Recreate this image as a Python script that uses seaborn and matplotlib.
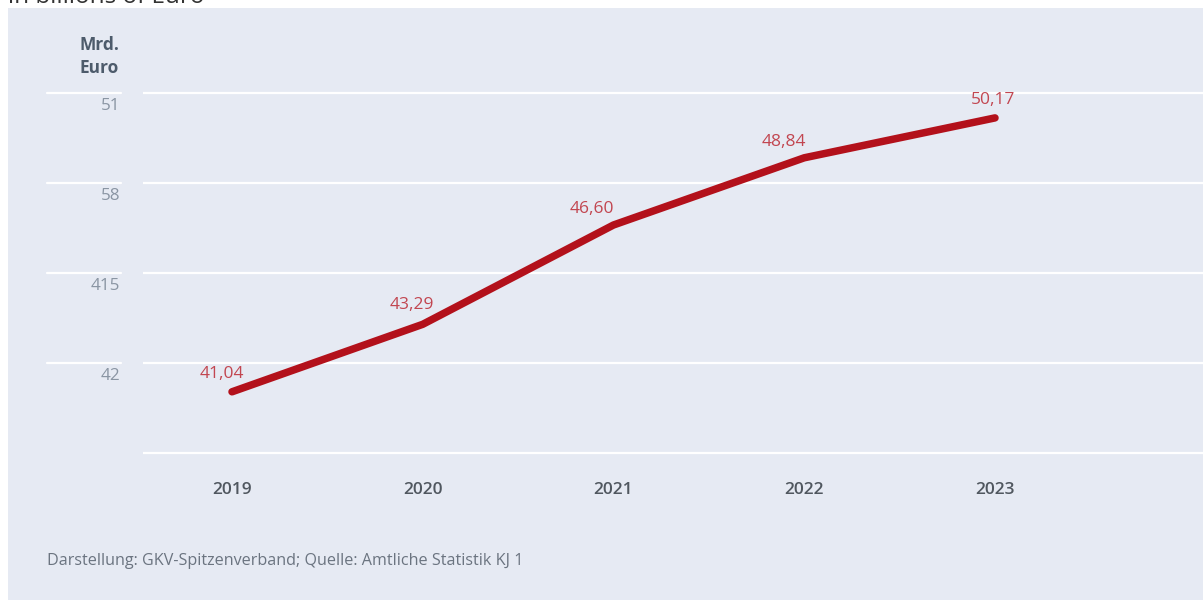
import matplotlib
matplotlib.use("Agg")
import matplotlib.pyplot as plt
from matplotlib.patches import Rectangle
from matplotlib.transforms import blended_transform_factory
import seaborn as sns
import pandas as pd

# Data
years = [2019, 2020, 2021, 2022, 2023]
spending = [41.04, 43.29, 46.60, 48.84, 50.17]
value_labels = ["41,04", "43,29", "46,60", "48,84", "50,17"]
ytick_values = [51, 48, 45, 42]
ytick_labels = ["51", "58", "415", "42"]
grid_values = [51, 48, 45, 42, 39]

sns.set_theme(style="white")
plt.rcParams["font.family"] = ["Open Sans", "DejaVu Sans"]

W, H, DPI = 1203, 600, 100
fig = plt.figure(figsize=(W / DPI, H / DPI), dpi=DPI, facecolor="white")

BG = "#e6eaf3"
fig.patches.append(Rectangle((8 / W, 0), 1 - 8 / W, 1 - 8 / H,
                             transform=fig.transFigure, facecolor=BG,
                             edgecolor="none", zorder=-5))

# Subtitle at the very top, running past the upper edge
fig.text(8 / W, 1 - 3 / H, "in billions of Euro", fontsize=17.5, color="#333333",
         ha="left", va="baseline")

ax_left, ax_right = 143 / W, 1.0
ax_bottom, ax_top = (H - 468) / H, (H - 78) / H
ax = fig.add_axes([ax_left, ax_bottom, ax_right - ax_left, ax_top - ax_bottom])
ax.set_facecolor("none")
ax.set_zorder(2)

df = pd.DataFrame({"year": years, "value": spending})

x0 = 2019 - 89 / 190.75
x1 = 2023 + 208 / 190.75
ax.set_xlim(x0, x1)
ax.set_ylim(38.5, 51.5)

# Horizontal grid lines: plot area and label strip on the left
trans_fig_y = blended_transform_factory(fig.transFigure, ax.transData)
for g in grid_values:
    ax.axhline(g, color="white", lw=1.6, zorder=1)
    if g in ytick_values:
        ax.plot([47 / W, 121 / W], [g, g], color="white", lw=1.6,
                transform=trans_fig_y, clip_on=False, zorder=1)

sns.lineplot(data=df, x="year", y="value", ax=ax, color="#b3111b",
             linewidth=5.4, solid_capstyle="round", solid_joinstyle="round",
             zorder=3)

# Value labels
offsets = [(-10, 10), (-11, 11), (-22, 8), (-20, 8), (-2, 10)]
for x, y, lab, (dx, dy) in zip(years, spending, value_labels, offsets):
    ax.annotate(lab, (x, y), xytext=(dx, dy), textcoords="offset pixels",
                ha="center", va="bottom", fontsize=12.5, color="#c24650",
                zorder=4)

# Y tick labels below the grid lines
ax.set_yticks([])
for v, lab in zip(ytick_values, ytick_labels):
    ax.annotate(lab, (120 / W, v), xycoords=trans_fig_y, xytext=(0, -5),
                textcoords="offset pixels", ha="right", va="top",
                fontsize=12.3, color="#8a95a3", annotation_clip=False)

fig.text(99 / W, 1 - 45 / H, "Mrd.", fontsize=12.5, fontweight="bold",
         color="#4d5b6b", ha="center", va="center")
fig.text(99 / W, 1 - 68 / H, "Euro", fontsize=12.5, fontweight="bold",
         color="#4d5b6b", ha="center", va="center")

ax.set_xticks(years)
ax.set_xticklabels([str(y) for y in years], fontweight="semibold")
ax.tick_params(axis="x", length=0, pad=10, labelsize=12.5, labelcolor="#50575f")
ax.set_xlabel("")
ax.set_ylabel("")
for s in ax.spines.values():
    s.set_visible(False)

fig.text(47 / W, 1 - 561 / H,
         "Darstellung: GKV-Spitzenverband; Quelle: Amtliche Statistik KJ 1",
         fontsize=11.6, color="#6b7480", ha="left", va="center")

fig.savefig("out.png", dpi=DPI, facecolor="white")
